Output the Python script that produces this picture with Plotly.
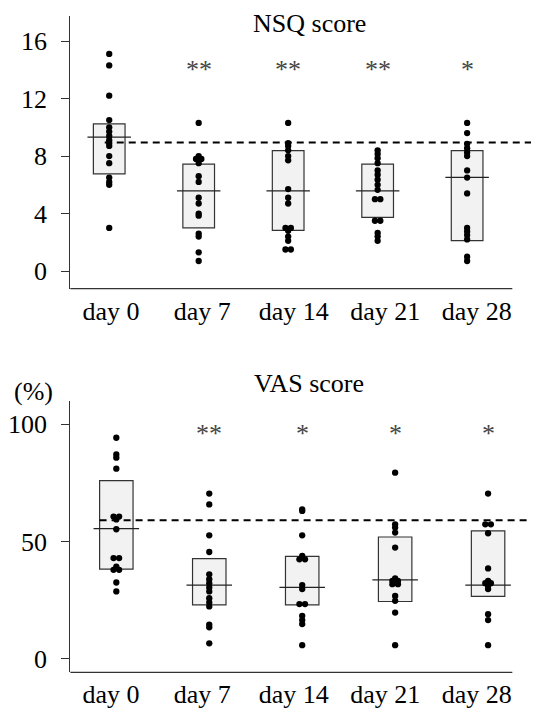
import plotly.graph_objects as go

# ---------------- data ----------------
days = ["day 0", "day 7", "day 14", "day 21", "day 28"]

nsq_day0 = [15.1, 14.3, 12.2, 10.5, 10.0, 9.7, 9.4, 9.1, 8.9, 8.7, 8.0, 7.5, 6.5, 6.2, 6.0, 3.0]
nsq_day7 = [10.3, 8.0, 7.8, 7.8, 7.5, 6.6, 6.2, 5.1, 4.7, 4.0, 3.85, 2.6, 2.4, 1.3, 0.7]
nsq_day14 = [10.3, 8.9, 8.7, 8.4, 8.0, 7.7, 5.7, 5.1, 4.7, 3.0, 3.0, 2.8, 2.4, 2.1, 1.5, 1.5]
nsq_day21 = [8.4, 8.15, 7.85, 7.5, 7.0, 6.7, 6.35, 6.0, 5.65, 5.0, 5.0, 3.5, 3.5, 2.65, 2.4, 2.1]
nsq_day28 = [10.3, 9.6, 8.85, 8.55, 8.25, 8.0, 7.0, 6.5, 5.4, 3.0, 2.75, 2.5, 2.2, 1.0, 0.7]
nsq_box_low = [6.76, 3.01, 2.83, 3.73, 2.11]
nsq_box_high = [10.24, 7.44, 8.38, 7.44, 8.38]
nsq_center = [9.31, 5.58, 5.58, 5.58, 6.51]
nsq_baseline = 8.94
nsq_sig = ["", "**", "**", "**", "*"]

vas_day0 = [94.2, 87.1, 85.7, 81.0, 60.6, 60.6, 59.4, 55.2, 42.9, 42.9, 39.3, 37.9, 37.9, 32.5, 28.7]
vas_day7 = [70.4, 65.8, 52.6, 45.5, 36.0, 33.9, 32.2, 30.4, 28.7, 25.8, 24.0, 22.3, 14.5, 13.4, 6.6]
vas_day14 = [63.7, 63.0, 52.6, 43.8, 42.4, 42.4, 31.4, 29.7, 23.3, 23.3, 18.3, 16.5, 14.8, 5.8]
vas_day21 = [79.3, 57.3, 55.9, 53.8, 47.4, 34.2, 33.2, 33.2, 31.8, 31.8, 26.8, 24.7, 19.7, 5.8]
vas_day28 = [70.4, 57.3, 57.3, 53.5, 38.5, 33.2, 32.2, 32.2, 31.1, 29.7, 19.0, 16.5, 5.8]
vas_box_low = [38.2, 23.0, 23.0, 24.4, 26.6]
vas_box_high = [75.9, 42.7, 43.6, 51.9, 54.5]
vas_center = [55.5, 31.4, 30.4, 33.6, 31.4]
vas_baseline = 59.0
vas_sig = ["", "**", "*", "*", "*"]

nsq_ticks = [0, 4, 8, 12, 16]
vas_ticks = [0, 50, 100]

# ---------------- style ----------------
OFF = 8                      # page body margin of the browser
W, H = 539 - OFF, 715 - OFF  # figure size so that it fits the window
FONT = "Liberation Serif"
FS = 26
BOX_FILL = "#f1f2f1"
EDGE = "#333333"


def PX(x):  # window pixel -> paper x
    return (x - OFF) / W


def PY(y):  # window pixel -> paper y
    return 1 - (y - OFF) / H


def swarm(values, center, step):
    """Spread exactly-equal values side by side around the category centre."""
    counts = {}
    for v in values:
        counts[v] = counts.get(v, 0) + 1
    seen, xs = {}, []
    for v in values:
        n = counts[v]
        k = seen.get(v, 0)
        seen[v] = k + 1
        xs.append(center + (k - (n - 1) / 2) * step)
    return xs


fig = go.Figure()


def add_panel(series, low, high, center, baseline, sig, sig_y, xa, ya, xl, box_w, line_w, base_x0):
    n = len(series)
    pos = list(range(n))
    fig.add_trace(go.Bar(
        x=pos, y=[h - l for h, l in zip(high, low)], base=low, width=box_w,
        marker=dict(color=BOX_FILL, line=dict(color=EDGE, width=1.2)),
        xaxis=xa, yaxis=ya, showlegend=False, hoverinfo="skip"))
    lx, ly = [], []
    for i, c in enumerate(center):
        lx += [i - line_w / 2, i + line_w / 2, None]
        ly += [c, c, None]
    fig.add_trace(go.Scatter(x=lx, y=ly, mode="lines", line=dict(color="#222222", width=1.2),
                             xaxis=xa, yaxis=ya, showlegend=False, hoverinfo="skip"))
    for i, vals in enumerate(series):
        fig.add_trace(go.Scatter(
            x=swarm(vals, i, 0.06), y=vals, mode="markers",
            marker=dict(color="black", size=6.3, line=dict(width=0)),
            xaxis=xa, yaxis=ya, showlegend=False, hoverinfo="skip"))
    # invisible trace so that the label axis is drawn
    fig.add_trace(go.Scatter(x=pos, y=[None] * n, mode="markers", xaxis=xl, yaxis=ya,
                             showlegend=False, hoverinfo="skip"))
    fig.add_shape(type="line", xref=xa, yref=ya, x0=base_x0, x1=20, y0=baseline, y1=baseline,
                  line=dict(color="black", width=2, dash="7px,5px"))
    for i, s in enumerate(sig):
        if s:
            fig.add_annotation(x=i, y=sig_y, xref=xa, yref=ya, text=s, showarrow=False,
                               font=dict(family=FONT, size=FS, color="#444444"),
                               xanchor="center", yanchor="middle")


add_panel([nsq_day0, nsq_day7, nsq_day14, nsq_day21, nsq_day28],
          nsq_box_low, nsq_box_high, nsq_center, nsq_baseline, nsq_sig, 14.05,
          "x", "y", "x3", 0.354, 0.486, -0.05)
add_panel([vas_day0, vas_day7, vas_day14, vas_day21, vas_day28],
          vas_box_low, vas_box_high, vas_center, vas_baseline, vas_sig, 96.0,
          "x2", "y2", "x4", 0.36, 0.49, -0.18)

# x-axis base lines
for xa, ya in (("x", "y"), ("x2", "y2")):
    fig.add_shape(type="line", xref=xa + " domain", yref=ya + " domain",
                  x0=0, x1=(512 - 65) / (539 - 65), y0=0, y1=0,
                  line=dict(color=EDGE, width=1.2))

xdom = [PX(65), 1]
top_dom = [PY(289), PY(16)]
bot_dom = [PY(673.3), PY(401.7)]
label_range = [(65 - 106) / 92.5, (539 - 106) / 92.5]
tickfont = dict(family=FONT, size=FS, color="black")

hidden_x = dict(showgrid=False, zeroline=False, showline=False, showticklabels=False, ticks="")
yax = dict(showgrid=False, zeroline=False, showline=True, linecolor=EDGE, linewidth=1.2,
           ticks="outside", ticklen=8, tickwidth=1.2, tickcolor=EDGE, tickfont=tickfont,
           ticklabelstandoff=9)
label_x = dict(showgrid=False, zeroline=False, showline=False, ticks="", range=label_range,
               tickvals=list(range(len(days))), ticktext=days, tickfont=tickfont,
               ticklabelstandoff=4)

fig.update_layout(
    width=W, height=H, margin=dict(l=0, r=0, t=0, b=0),
    paper_bgcolor="white", plot_bgcolor="white", barmode="overlay",
    xaxis=dict(domain=xdom, range=[(65 - 104.3) / 90.5, (539 - 104.3) / 90.5], anchor="y", **hidden_x),
    yaxis=dict(domain=top_dom, range=[-1.22, 17.74], tickvals=nsq_ticks, anchor="x", **yax),
    xaxis3=dict(overlaying="x", anchor="y", **label_x),
    xaxis2=dict(domain=xdom, range=[(65 - 111.5) / 94, (539 - 111.5) / 94], anchor="y2", **hidden_x),
    yaxis2=dict(domain=bot_dom, range=[-5.79, 109.8], tickvals=vas_ticks, anchor="x2", **yax),
    xaxis4=dict(overlaying="x2", anchor="y2", **label_x),
)

fig.add_annotation(x=PX(306.7), y=PY(23.5), xref="paper", yref="paper", text="NSQ score",
                   showarrow=False, font=dict(family=FONT, size=FS, color="black"),
                   xanchor="center", yanchor="middle", borderpad=0)
fig.add_annotation(x=PX(306.7), y=PY(384), xref="paper", yref="paper", text="VAS score",
                   showarrow=False, font=dict(family=FONT, size=FS, color="black"),
                   xanchor="center", yanchor="middle")
fig.add_annotation(x=PX(28), y=PY(392), xref="paper", yref="paper", text="(%)",
                   showarrow=False, font=dict(family=FONT, size=FS, color="black"),
                   xanchor="center", yanchor="middle")

fig.write_html("out.html")
